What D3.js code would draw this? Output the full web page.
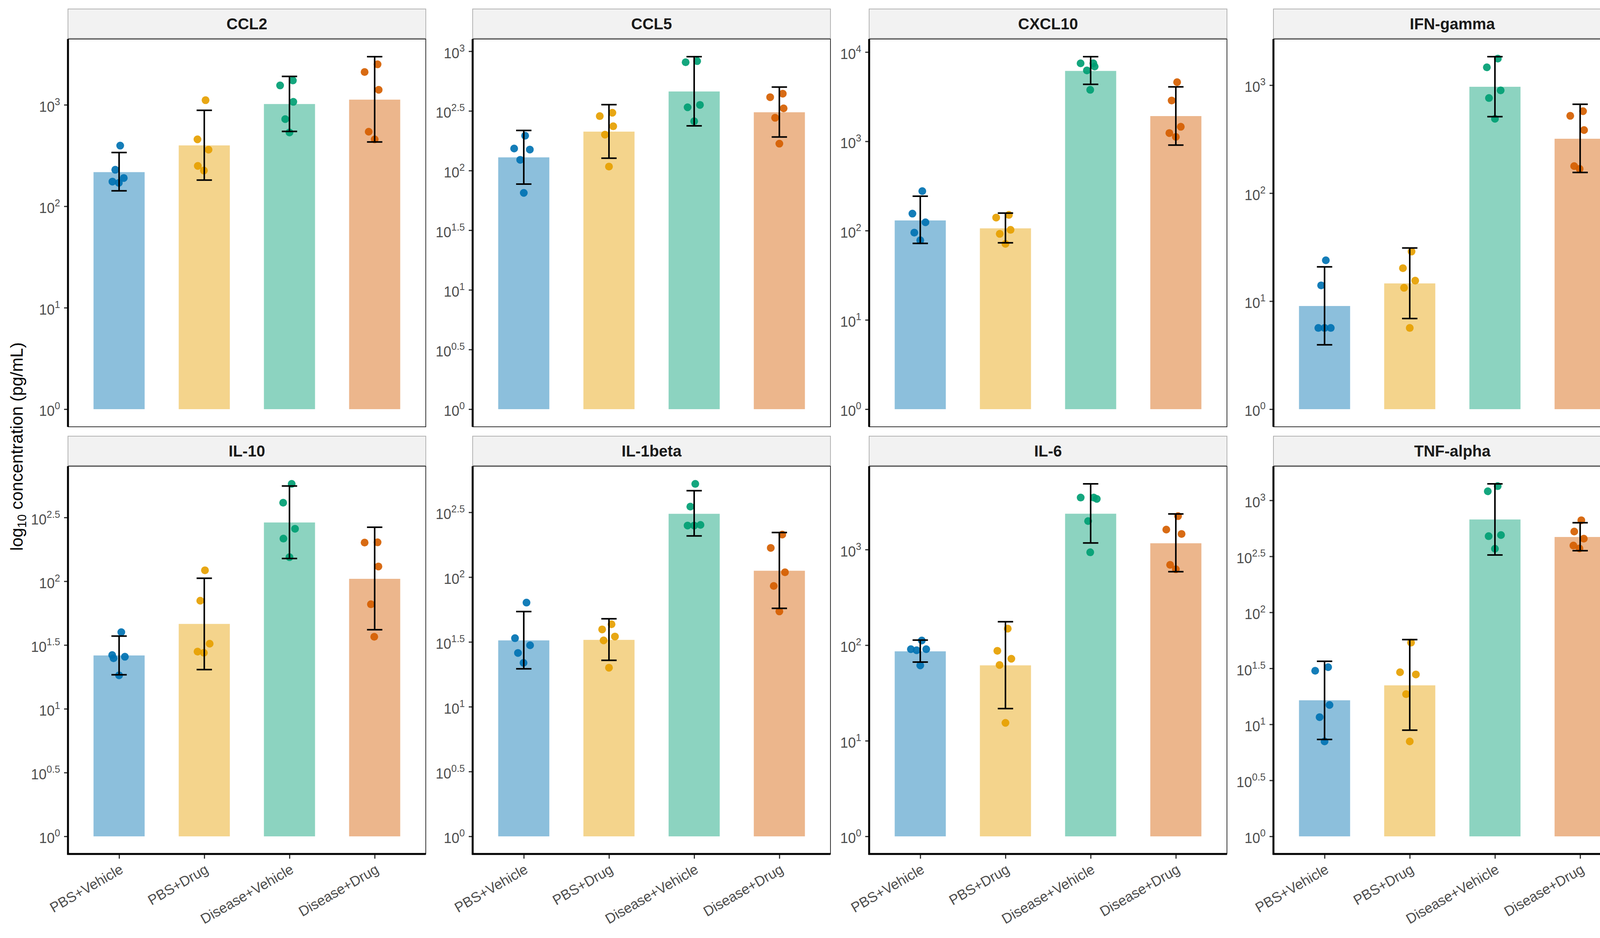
<!DOCTYPE html>
<html><head><meta charset="utf-8">
<script src="https://cdn.jsdelivr.net/npm/d3@7"></script>
<style>body{margin:0;background:#fff}svg{display:block}</style>
</head><body>
<svg id="chart" width="4200" height="2400"></svg>
<script>
// ---------- DATA ----------
const analytes = ["CCL2","CCL5","CXCL10","IFN-gamma","IL-10","IL-1beta","IL-6","TNF-alpha"];
const groups = ["PBS+Vehicle","PBS+Drug","Disease+Vehicle","Disease+Drug"];
const groupColors = ["#0072B2","#E69F00","#009E73","#D55E00"];
const yTitle = ["log", "10", " concentration (pg/mL)"];

// bar heights (pg/mL), per analyte, per group
const barMeans = [
  [217, 398, 1018, 1125],
  [129, 212, 460, 308],
  [130, 106, 6147, 1918],
  [9.02, 14.6, 966, 319],
  [26.2, 46.3, 289, 104.5],
  [32.5, 32.8, 308, 112],
  [86.2, 61.5, 2372, 1164],
  [16.4, 22.3, 675, 471]
];
const errLow = [
  [142, 181, 547, 430],
  [77, 127, 237, 191],
  [72, 73, 4350, 907],
  [3.94, 6.9, 511, 155.5],
  [18.5, 20.3, 150.7, 41.7],
  [19.6, 22.8, 208, 57.4],
  [66.6, 21.7, 1172, 587],
  [7.33, 8.87, 325, 355]
];
const errHigh = [
  [339, 883, 1906, 2980],
  [217, 357, 900, 501],
  [243, 157, 8870, 4080],
  [20.8, 31.1, 1834, 665],
  [37.2, 105.6, 558, 265],
  [54.2, 47.7, 464, 221],
  [113, 176, 4866, 2358],
  [36.6, 57.1, 1403, 631]
];
// individual samples
const pointValues = [
  [[396,229,190,175,170],[1111,457,361,250,225],[1738,1553,1070,723,534],[2506,2105,1406,543,457]],
  [[196,153,150,123,65],[305,286,235,200,108],[827,809,355,339,259],[441,412,332,277,168]],
  [[277,155,124,95,78],[150,140,102,92,71],[7480,7480,6880,6230,3775],[4600,2867,1456,1238,1122]],
  [[23.9,14.0,5.65,5.65,5.65],[28.8,20.2,15.5,13.3,5.65],[1762,1462,895,760,488],[574,520,384,178,168]],
  [[39.9,26.4,25.6,24.9,18.3],[121.9,70.4,32.4,28.1,27.5],[580,413,258,216,154.5],[202,201,130.6,66,36.7]],
  [[63.6,33.8,29.8,26.0,21.8],[43.3,39.5,34.8,32.5,20.0],[524,350,250,250,253],[213,168,109,85.5,54.4]],
  [[112,90.8,90.8,88.5,61.5],[149,87.3,72.1,62,15.4],[3500,3500,3389,1986,937],[2238,1619,1457,692,622]],
  [[32.4,30.1,14.9,11.6,7.04],[53.7,29.2,27.9,18.6,7.04],[1340,1205,490,479,370],[664,527,455,395,372]]
];
// horizontal jitter of each sample, in category units
const jitterOffsets = [
  [[0.013,-0.045,0.055,-0.078,-0.003],[0.015,-0.08,0.05,-0.076,-0.005],[0.04,-0.11,0.045,-0.05,0],[0.034,-0.118,0.047,-0.07,0]],
  [[0.016,-0.113,0.071,-0.042,0],[0.04,-0.108,0.05,-0.047,0],[0.035,-0.1,0.068,-0.077,0],[0.04,-0.108,0.05,-0.05,0]],
  [[0.024,-0.092,0.061,-0.07,0],[0.04,-0.109,0.06,-0.067,0],[-0.118,0.032,0.047,-0.044,-0.005],[0.015,-0.049,0.058,-0.076,0]],
  [[0.015,-0.04,-0.073,0,0.073],[0.021,-0.08,0.064,-0.067,0],[0.034,-0.095,0.067,-0.07,0],[0.034,-0.116,0.046,-0.07,-0.006]],
  [[0.026,-0.081,0.068,-0.065,0],[0.008,-0.047,0.063,-0.079,-0.005],[0.026,-0.074,0.065,-0.071,0],[0.034,-0.118,0.044,-0.044,-0.005]],
  [[0.032,-0.103,0.074,-0.068,-0.003],[0.03,-0.08,0.07,-0.063,0],[0.013,-0.045,-0.077,0,0.074],[0.034,-0.101,0.066,-0.066,0]],
  [[0.018,-0.11,0.07,-0.043,0],[0.027,-0.095,0.069,-0.069,0],[-0.117,0.037,0.072,-0.03,-0.005],[0.026,-0.112,0.067,-0.067,0]],
  [[0.042,-0.11,0.058,-0.058,0],[0.015,-0.114,0.072,-0.043,0],[0.032,-0.084,0.071,-0.074,0],[0.014,-0.069,0.043,-0.079,-0.008]]
];
// spacing of y-axis tick exponents per panel
const tickSteps = [1, 0.5, 1, 1, 0.5, 0.5, 1, 0.5];

// ---------- LAYOUT ----------
const FONT = "'Liberation Sans', Arial, Helvetica, sans-serif";
const colLefts = [174, 1210, 2225, 3260];
const panelW = 916;
const stripTops = [23, 1116];
const stripH = 75;
const panelTops = [100, 1193];
const panelH = 992;

const svg = d3.select("#chart");
svg.append("rect").attr("width",4200).attr("height",2400).attr("fill","#fff");

analytes.forEach((name, i) => {
  const row = Math.floor(i / 4), col = i % 4;
  const left = colLefts[col], top = panelTops[row], bottom = top + panelH;
  const g = svg.append("g");

  const x = d3.scalePoint().domain(groups).range([left, left + panelW]).padding(0.6);
  const step = x.step();
  const barW = 0.6 * step, capW = 0.18 * step;

  const allVals = errHigh[i].concat(pointValues[i].flat());
  const logMax = Math.log10(d3.max(allVals));
  const y = d3.scaleLog().domain([Math.pow(10, -0.05 * logMax), Math.pow(10, 1.05 * logMax)]).range([bottom, top]);

  // strip
  g.append("rect").attr("x", left).attr("y", stripTops[row]).attr("width", panelW).attr("height", stripH)
    .attr("fill", "#F2F2F2").attr("stroke", "#B3B3B3").attr("stroke-width", 2);
  g.append("text").attr("x", left + panelW / 2).attr("y", stripTops[row] + stripH / 2 + 14)
    .attr("text-anchor", "middle").attr("font-family", FONT).attr("font-weight", "bold")
    .attr("font-size", 40).attr("fill", "#1A1A1A").text(name);

  // bars
  g.selectAll("rect.bar").data(groups).enter().append("rect").attr("class", "bar")
    .attr("x", d => x(d) - barW / 2).attr("width", barW)
    .attr("y", (d, j) => y(barMeans[i][j]))
    .attr("height", (d, j) => y(1) - y(barMeans[i][j]))
    .attr("fill", (d, j) => groupColors[j]).attr("fill-opacity", 0.45);

  // points
  groups.forEach((grp, j) => {
    g.selectAll(null).data(pointValues[i][j]).enter().append("circle")
      .attr("cx", (v, k) => x(grp) + jitterOffsets[i][j][k] * step)
      .attr("cy", v => y(v)).attr("r", 10)
      .attr("fill", groupColors[j]).attr("fill-opacity", 0.92);
  });

  // error bars
  groups.forEach((grp, j) => {
    const cx = x(grp), yl = y(errLow[i][j]), yh = y(errHigh[i][j]);
    g.append("line").attr("x1", cx).attr("x2", cx).attr("y1", yl).attr("y2", yh)
      .attr("stroke", "#000").attr("stroke-width", 4);
    [yl, yh].forEach(yy => g.append("line").attr("x1", cx - capW / 2).attr("x2", cx + capW / 2)
      .attr("y1", yy).attr("y2", yy).attr("stroke", "#000").attr("stroke-width", 4));
  });

  // panel border
  g.append("rect").attr("x", left).attr("y", top).attr("width", panelW).attr("height", panelH)
    .attr("fill", "none").attr("stroke", "#333333").attr("stroke-width", 2);

  // y axis
  const s = tickSteps[i];
  const exps = d3.range(0, 1.05 * logMax + 1e-9, s);
  const yAxis = g.append("g").attr("transform", `translate(${left},0)`)
    .call(d3.axisLeft(y).tickValues(exps.map(e => Math.pow(10, e))).tickSize(10).tickPadding(10).tickFormat(() => ""));
  yAxis.select(".domain").remove();
  yAxis.selectAll(".tick line").attr("stroke", "#333333").attr("stroke-width", 3);
  yAxis.selectAll(".tick text").each(function(d, k) {
    const t = d3.select(this).attr("dy", null).attr("y", 17)
      .attr("font-family", FONT).attr("font-size", 36).attr("fill", "#4D4D4D").attr("text-anchor", "end");
    const e = exps[k];
    const lab = Number.isInteger(Math.round(e * 10) / 10) ? String(Math.round(e)) : e.toFixed(1);
    t.append("tspan").text("10");
    t.append("tspan").attr("font-size", 25).attr("dy", -17).text(lab);
  });
  g.append("line").attr("x1", left).attr("x2", left).attr("y1", top).attr("y2", bottom + (row === 1 ? 2 : 0))
    .attr("stroke", "#000").attr("stroke-width", 5);

  // x axis (bottom row only)
  if (row === 1) {
    g.append("line").attr("x1", left - 2).attr("x2", left + panelW).attr("y1", bottom).attr("y2", bottom)
      .attr("stroke", "#000").attr("stroke-width", 5);
    const xAxis = g.append("g").attr("transform", `translate(0,${bottom + 2})`)
      .call(d3.axisBottom(x).tickSize(10).tickFormat(""));
    xAxis.select(".domain").remove();
    xAxis.selectAll(".tick line").attr("stroke", "#333333").attr("stroke-width", 3);
    groups.forEach(grp => {
      const ax = x(grp), ay = bottom + 24;
      g.append("text").attr("x", ax).attr("y", ay).attr("dy", "0.72em")
        .attr("transform", `rotate(-30,${ax},${ay})`)
        .attr("text-anchor", "end").attr("font-family", FONT).attr("font-size", 36)
        .attr("fill", "#4D4D4D").text(grp);
    });
  }
});

// y title
const ty = (panelTops[0] + panelTops[1] + panelH) / 2;
const title = svg.append("text").attr("transform", `translate(58,${ty}) rotate(-90)`)
  .attr("text-anchor", "middle").attr("font-family", FONT).attr("font-size", 44).attr("fill", "#000");
title.append("tspan").text(yTitle[0]);
title.append("tspan").attr("font-size", 31).attr("dy", 9).text(yTitle[1]);
title.append("tspan").attr("dy", -9).text(yTitle[2]);
</script>
</body></html>
